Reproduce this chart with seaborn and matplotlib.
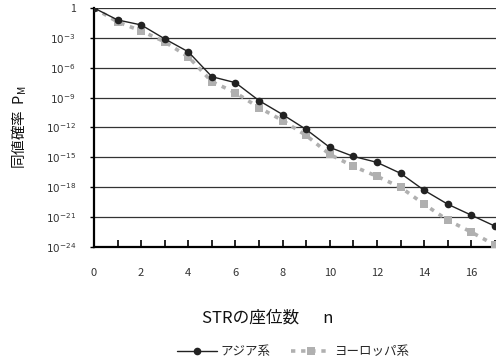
import numpy as np
import pandas as pd
import matplotlib
matplotlib.use("Agg")
import matplotlib.pyplot as plt
import seaborn as sns
from matplotlib.ticker import FixedLocator, MultipleLocator, FixedFormatter

sns.set_theme(style="white")
plt.rcParams['font.family'] = ['Noto Sans CJK JP', 'DejaVu Sans']
plt.rcParams['mathtext.fontset'] = 'dejavusans'

n = list(range(0, 18))
# log10 of match probability P_M
asia_exp = [0, -1.2, -1.7, -3.1, -4.4, -6.9, -7.5, -9.3, -10.7, -12.2, -14.0, -14.9, -15.5, -16.6, -18.3, -19.7, -20.8, -21.9]
europe_exp = [0, -1.4, -2.3, -3.4, -4.9, -7.4, -8.5, -10.0, -11.3, -12.8, -14.7, -15.9, -16.9, -18.0, -19.7, -21.3, -22.5, -23.8]
series_names = ["アジア系", "ヨーロッパ系"]
ytick_exps = [0, -3, -6, -9, -12, -15, -18, -21, -24]
ytick_labels = ["1"] + [f"$10^{{{e}}}$" for e in ytick_exps[1:]]

df_a = pd.DataFrame({"n": n, "P": 10.0 ** np.array(asia_exp)})
df_e = pd.DataFrame({"n": n, "P": 10.0 ** np.array(europe_exp)})

fig = plt.figure(figsize=(4.96, 3.62), dpi=100)
ax = fig.add_axes([94 / 496, 115 / 362, 1 - 94 / 496, 239 / 362])
ax.set_yscale("log")

sns.lineplot(data=df_e, x="n", y="P", ax=ax, color="#b0b0b0", linestyle=(0, (1.2, 1.6)),
             linewidth=2.6, marker="s", markersize=6, markeredgewidth=0,
             label=series_names[1], zorder=3)
sns.lineplot(data=df_a, x="n", y="P", ax=ax, color="#222222", linewidth=1.0,
             marker="o", markersize=5.5, markeredgewidth=0, label=series_names[0], zorder=4)

ax.set_xlim(0, 17.05)
ax.set_ylim(1e-24, 1)
ax.yaxis.set_major_locator(FixedLocator([10.0 ** e for e in ytick_exps]))
ax.yaxis.set_major_formatter(FixedFormatter(ytick_labels))
ax.yaxis.set_minor_locator(FixedLocator([]))
ax.xaxis.set_major_locator(MultipleLocator(2))
ax.xaxis.set_minor_locator(MultipleLocator(1))

for e in ytick_exps:
    ax.axhline(10.0 ** e, color="#333333", linewidth=0.9, zorder=1)

for s in ["top", "right"]:
    ax.spines[s].set_visible(False)
for s in ["left", "bottom"]:
    ax.spines[s].set_color("black")
    ax.spines[s].set_linewidth(1.6)

ax.tick_params(axis="x", which="both", direction="in", length=5, width=1.2, color="black",
               labelsize=8, pad=15, labelcolor="#333333", bottom=True)
ax.tick_params(axis="y", which="major", direction="out", length=3, width=1.0, color="black",
               labelsize=7.5, pad=10, labelcolor="#333333", left=True)

ax.set_xlabel("STRの座位数　  n", fontsize=12, color="#111111")
ax.xaxis.set_label_coords((268 - 94) / (496 - 94), -(318 - 247) / 239)
ax.xaxis.label.set_va("center")
ax.set_ylabel("同値確率  $\\mathregular{P_M}$", fontsize=10.5, labelpad=12, color="#111111")

handles, labels = ax.get_legend_handles_labels()
order = [labels.index(series_names[0]), labels.index(series_names[1])]
if ax.get_legend():
    ax.get_legend().remove()
fig.legend([handles[i] for i in order], [labels[i] for i in order],
           loc="center left", bbox_to_anchor=(177 / 496, 10 / 362), ncol=2, frameon=False,
           fontsize=9, handlelength=3.2, columnspacing=1.6, handletextpad=0.3,
           borderaxespad=0, borderpad=0)

fig.savefig("out.png", dpi=100)
